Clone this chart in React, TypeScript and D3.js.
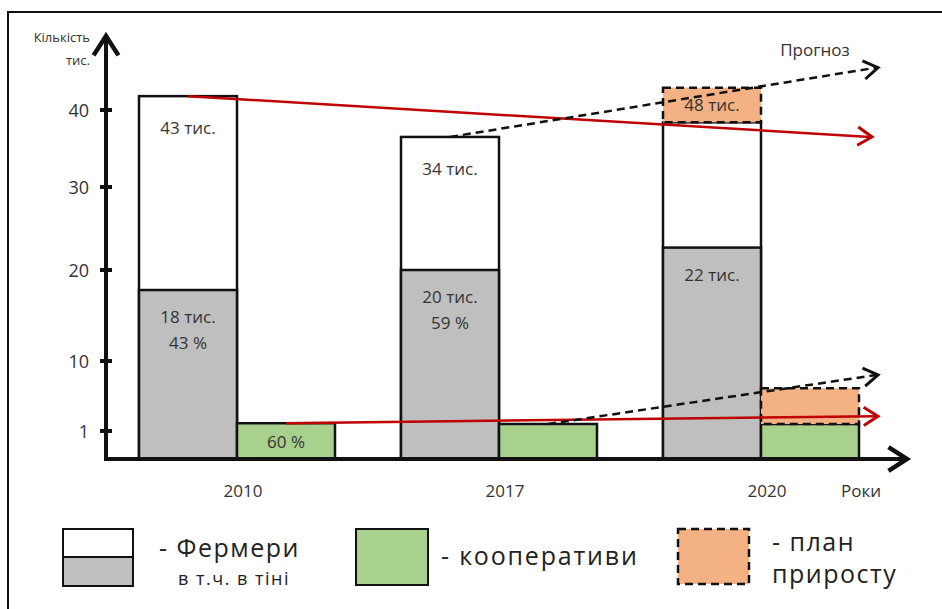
import React from 'react';
import * as d3 from 'd3';

// роки та серії
const years = ['2010', '2017', '2020'];
const series = ['farm', 'coop'];

// значення зчитані з осі рисунка (тис.)
const farmersTotal = [41.8, 36.5, 38.4];
const farmersShadow = [17.8, 20, 22.7];
const coops = [2.0, 1.9, 1.9];
const planFarmers = [null, null, 42.9];
const planCoops = [null, null, 6.5];

// підписи
const totalLabels = ['43 тис.', '34 тис.', ''];
const shadowLabels = ['18 тис.', '20 тис.', '22 тис.'];
const shadowPct = ['43 %', '59 %', ''];
const coopLabels = ['60 %', '', ''];
const planLabels = ['', '', '48 тис.'];
const yTicks = [1, 10, 20, 30, 40];

// тренди: початок (рік, серія, значення) -> кінцеве значення біля стрілки
const trendYear = ['2010', '2010', '2017', '2017'];
const trendSeries = ['farm', 'coop', 'farm', 'coop'];
const trendStart = [41.8, 2.0, 36.5, 1.9];
const trendEnd = [36.5, 2.9, 45.5, 8.2];
const trendDashed = [false, false, true, true];

const W = 942, H = 609;
const FONT = '"Open Sans", sans-serif';
const TXT = '#333';

function Arrow({ x1, y1, x2, y2, color, width, len }) {
    const a = Math.atan2(y2 - y1, x2 - x1);
    const s = Math.PI / 5.5;
    const p1 = [x2 - len * Math.cos(a - s), y2 - len * Math.sin(a - s)];
    const p2 = [x2 - len * Math.cos(a + s), y2 - len * Math.sin(a + s)];
    return (
        <path d={`M${p1[0]},${p1[1]}L${x2},${y2}L${p2[0]},${p2[1]}`}
              fill="none" stroke={color} strokeWidth={width}
              strokeLinejoin="miter" strokeLinecap="butt"/>
    );
}

export default function App() {
    // вісь Y — кусково-лінійна, як на рисунку
    const y = d3.scaleLinear()
        .domain([0, 1, 10, 20, 30, 40])
        .range([459, 431, 361, 270, 187, 110]);

    const x = d3.scaleBand()
        .domain(years)
        .range([139, 859])
        .paddingInner(66 / 262);

    const xs = d3.scaleBand()
        .domain(series)
        .range([0, x.bandwidth()]);

    const bw = xs.bandwidth();
    const x0 = 106, base = y(0);
    const tipX = [872, 878, 878, 878];

    return (
        <svg width={W} height={H} style={{position: 'absolute', left: 0, top: 0}}
             fontFamily={FONT}>
            <rect width={W} height={H} fill="#fff"/>
            {/* рамка */}
            <path d={`M8,${H}V12H${W}`} fill="none" stroke="#111" strokeWidth={2}/>

            {/* стовпці */}
            {years.map((yr, i) => {
                const fx = x(yr) + xs('farm');
                const cx = x(yr) + xs('coop');
                return (
                    <g key={yr}>
                        <rect x={fx} y={y(farmersTotal[i])} width={bw}
                              height={base - y(farmersTotal[i])}
                              fill="#fff" stroke="#111" strokeWidth={2.5}/>
                        <rect x={fx} y={y(farmersShadow[i])} width={bw}
                              height={base - y(farmersShadow[i])}
                              fill="#bfbfbf" stroke="#111" strokeWidth={2.5}/>
                        <rect x={cx} y={y(coops[i])} width={bw}
                              height={base - y(coops[i])}
                              fill="#a9d18e" stroke="#111" strokeWidth={2.5}/>
                        {planFarmers[i] != null && (
                            <rect x={fx} y={y(planFarmers[i])} width={bw}
                                  height={y(farmersTotal[i]) - y(planFarmers[i])}
                                  fill="#f4b183" stroke="#111" strokeWidth={2.5}
                                  strokeDasharray="8,5"/>
                        )}
                        {planCoops[i] != null && (
                            <rect x={cx} y={y(planCoops[i])} width={bw}
                                  height={y(coops[i]) - y(planCoops[i])}
                                  fill="#f4b183" stroke="#111" strokeWidth={2.5}
                                  strokeDasharray="8,5"/>
                        )}
                    </g>
                );
            })}

            {/* підписи у стовпцях */}
            <g fill={TXT} fontSize={17} textAnchor="middle">
                {years.map((yr, i) => {
                    const fc = x(yr) + xs('farm') + bw / 2;
                    const cc = x(yr) + xs('coop') + bw / 2;
                    return (
                        <g key={yr}>
                            <text x={fc} y={y(farmersTotal[i]) + 38}>{totalLabels[i]}</text>
                            <text x={fc} y={y(farmersShadow[i]) + 33}>{shadowLabels[i]}</text>
                            <text x={fc} y={y(farmersShadow[i]) + 59}>{shadowPct[i]}</text>
                            <text x={cc} y={(y(coops[i]) + base) / 2 + 7}>{coopLabels[i]}</text>
                            {planFarmers[i] != null && (
                                <text x={fc} y={(y(planFarmers[i]) + y(farmersTotal[i])) / 2 + 6}>
                                    {planLabels[i]}
                                </text>
                            )}
                        </g>
                    );
                })}
            </g>

            {/* тренди */}
            {trendYear.map((yr, i) => {
                const sx = x(yr) + xs(trendSeries[i]) + bw / 2;
                const sy = y(trendStart[i]);
                const ex = tipX[i], ey = y(trendEnd[i]);
                const color = trendDashed[i] ? '#111' : '#c00000';
                return (
                    <g key={i}>
                        <line x1={sx} y1={sy} x2={ex - 2} y2={ey} stroke={color}
                              strokeWidth={2.5}
                              strokeDasharray={trendDashed[i] ? '8,5' : null}/>
                        <Arrow x1={sx} y1={sy} x2={ex} y2={ey} color={color}
                               width={3} len={17}/>
                    </g>
                );
            })}

            {/* осі */}
            <line x1={x0} y1={base + 2} x2={x0} y2={38} stroke="#111" strokeWidth={4}/>
            <Arrow x1={x0} y1={base} x2={x0} y2={36} color="#111" width={4.5} len={23}/>
            <line x1={x0 - 2} y1={base} x2={905} y2={base} stroke="#111" strokeWidth={4}/>
            <Arrow x1={x0} y1={base} x2={907} y2={base} color="#111" width={4.5} len={22}/>

            {yTicks.map(t => (
                <g key={t}>
                    <line x1={x0 - 6} x2={x0 + 6} y1={y(t)} y2={y(t)}
                          stroke="#111" strokeWidth={4}/>
                    <text x={89} y={y(t) + 7} textAnchor="end" fontSize={18}
                          fill={TXT}>{t}</text>
                </g>
            ))}
            <text x={90} y={42} textAnchor="end" fontSize={13} fill={TXT}>Кількість</text>
            <text x={90} y={65} textAnchor="end" fontSize={13} fill={TXT}>тис.</text>

            {years.map(yr => (
                <text key={yr} x={x(yr) + xs('coop') + 6} y={497} textAnchor="middle"
                      fontSize={17} fill={TXT}>{yr}</text>
            ))}
            <text x={861} y={497} textAnchor="middle" fontSize={17} fill={TXT}>Роки</text>
            <text x={815} y={56} textAnchor="middle" fontSize={17} fill={TXT}>Прогноз</text>

            {/* легенда */}
            <g fill="#222">
                <rect x={63} y={529} width={70} height={28} fill="#fff" stroke="#111" strokeWidth={2}/>
                <rect x={63} y={557} width={70} height={29} fill="#bfbfbf" stroke="#111" strokeWidth={2}/>
                <text x={159} y={557} fontSize={25} letterSpacing={1.5}>- Фермери</text>
                <text x={178} y={585} fontSize={18} letterSpacing={1.5}>в т.ч. в тіні</text>

                <rect x={356} y={529} width={72} height={56} fill="#a9d18e" stroke="#111" strokeWidth={2}/>
                <text x={441} y={565} fontSize={25} letterSpacing={1.8}>- кооперативи</text>

                <rect x={678} y={529} width={71} height={55} fill="#f4b183" stroke="#111"
                      strokeWidth={2.5} strokeDasharray="8,5"/>
                <text x={772} y={551} fontSize={25} letterSpacing={1.5}>- план</text>
                <text x={772} y={583} fontSize={25} letterSpacing={1.5}>приросту</text>
            </g>
        </svg>
    );
}
